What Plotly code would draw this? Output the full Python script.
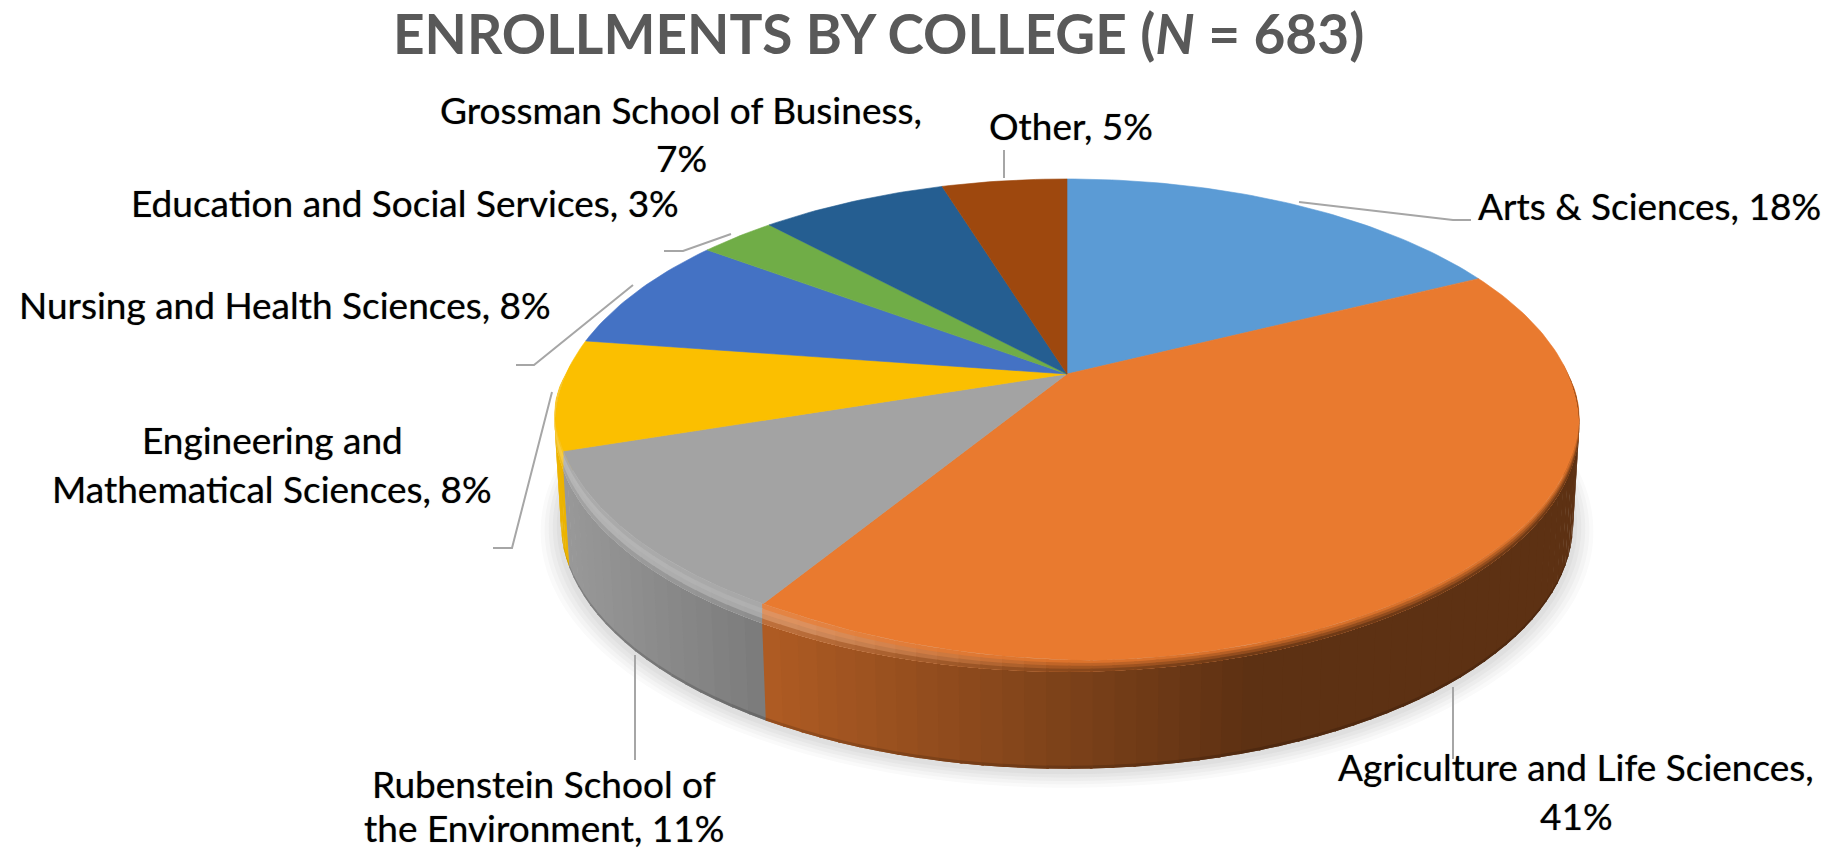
import numpy as np
import plotly.graph_objects as go

# Data: enrolment counts (N = 683)
colleges = ["Arts & Sciences", "Agriculture and Life Sciences", "Rubenstein School of the Environment",
            "Engineering and Mathematical Sciences", "Nursing and Health Sciences",
            "Education and Social Services", "Grossman School of Business", "Other"]
counts = [121, 277, 72, 58, 53, 20, 49, 33]
colors = ["#5B9BD5", "#E97A2F", "#A3A3A3", "#FBBF00", "#4472C4", "#70AD47", "#255E91", "#9E480E"]

# Label layout: lines of each label and the centre of each line, in pixels
label_lines = [
    [("{name}, {pct}%", 1649, 205)],
    [("Agriculture and Life Sciences,", 1576, 766), ("{pct}%", 1576, 815)],
    [("Rubenstein School of", 544, 783), ("the Environment, {pct}%", 544, 827)],
    [("Engineering and", 272, 439), ("Mathematical Sciences, {pct}%", 272, 488)],
    [("{name}, {pct}%", 285, 304)],
    [("{name}, {pct}%", 405, 202)],
    [("Grossman School of Business,", 681, 109), ("{pct}%", 681, 157)],
    [("{name}, {pct}%", 1071, 125)],
]
leaders = [
    [(1299, 202), (1453, 220), (1471, 220)],
    [(1453, 687), (1453, 759)],
    [(635, 655), (635, 760)],
    [(552, 392), (512, 548), (493, 548)],
    [(633, 285), (534, 365), (516, 365)],
    [(731, 234), (683, 251), (664, 251)],
    [],
    [(1004, 150), (1004, 178)],
]

# Projection of the pie disc
CX, CY, A, B, K = 1067.0, 374.0, 501.0, 235.7, 0.2085
DEPTH = 97.0
NARROW = 0.988  # the base of the disc is slightly narrower than its top
OVERLAP = np.radians(0.12)  # neighbouring wall strips overlap so no seams show


def disc(theta):
    """theta: radians clockwise from 12 o'clock. Perspective image of the unit circle."""
    sx, sy = np.sin(theta), -np.cos(theta)
    den = 1 - K * sy
    return CX + A * sx / den, CY + B * sy / den, sy


def base_x(x):
    return CX + (x - CX) * NARROW


def bevel_width(x, sy):
    return np.interp(x, [800, 1100], [20, 11]) * np.clip(sy / 0.35, 0, 1)


def rgb(h):
    return np.array([int(h[i:i + 2], 16) for i in (1, 3, 5)], float)


def css(c):
    c = np.clip(c, 0, 255)
    return "rgb(%d,%d,%d)" % tuple(c.round())


def side_light(x):
    return np.interp(x, [550, 766, 1250], [0.95, 0.75, 0.40])


def gloss(x):
    return np.interp(x, [550, 800, 1060], [0.27, 0.27, 0.0])


fig = go.Figure()


def poly(xs, ys, color, stroke=False):
    fig.add_trace(go.Scatter(x=list(xs), y=list(ys), mode="lines" if stroke else "none",
                             fill="toself", fillcolor=color,
                             line=dict(color=color, width=0.6), hoverinfo="skip", showlegend=False))


fracs = np.cumsum([0] + counts) / sum(counts)
angles = 2 * np.pi * fracs

# Soft shadow under the disc
full = np.linspace(0, 2 * np.pi, 361)
for scale, shift, shade in zip([1.04, 1.032, 1.024, 1.016, 1.008], [7, 6, 5, 4, 3],
                               ["#FAFAFA", "#F4F4F4", "#EDEDED", "#E6E6E6", "#DFDFDF"]):
    sx, sy = np.sin(full), -np.cos(full)
    den = 1 - K * sy
    poly(CX + NARROW * scale * A * sx / den, CY + DEPTH + shift + scale * B * sy / den, shade)

# Side wall quads, back to front
quads = []
for i, col in enumerate(colors):
    n = max(2, int((angles[i + 1] - angles[i]) / np.radians(2)))
    edges = np.linspace(angles[i], angles[i + 1], n + 1)
    for t0, t1 in zip(edges[:-1], edges[1:]):
        tm = (t0 + t1) / 2
        if -np.cos(tm) > -0.05:
            quads.append((i, t0, t1, -np.cos(tm)))
quads.sort(key=lambda q: q[3])
for i, t0, t1, _ in quads:
    x0, y0, _s = disc(t0 - OVERLAP)
    x1, y1, _s = disc(t1 + OVERLAP)
    xm = (x0 + x1) / 2
    c = rgb(colors[i]) * side_light(xm)
    poly([x0, x1, base_x(x1), base_x(x0)], [y0, y1, y1 + DEPTH, y0 + DEPTH], css(c))
    m0, m1 = CX + (x0 - CX) * (NARROW + 0.0005), CX + (x1 - CX) * (NARROW + 0.0005)
    poly([m0, m1, base_x(x1), base_x(x0)], [y0 + DEPTH - 3, y1 + DEPTH - 3, y1 + DEPTH, y0 + DEPTH], css(c * 0.85))


# Flat top slices
def top_edge(theta):
    x, y, s = disc(theta)
    return x, y - bevel_width(x, s)


for i, col in enumerate(colors):
    th = np.linspace(angles[i], angles[i + 1], max(3, int((angles[i + 1] - angles[i]) / np.radians(1))))
    ex, ey = top_edge(th)
    poly(np.r_[CX, ex, CX], np.r_[CY, ey, CY], col, stroke=True)

# Bevel between top and wall: each layer runs down to the wall, later layers cover the rest
LAYERS = 4
for l in range(LAYERS):
    a = l / LAYERS
    t = (l + 0.5) / LAYERS
    for i, t0, t1, sy in quads:
        if sy <= 0:
            continue
        x0, y0, s0 = disc(t0 - OVERLAP)
        x1, y1, s1 = disc(t1 + OVERLAP)
        w0, w1 = bevel_width(x0, s0), bevel_width(x1, s1)
        xm = (x0 + x1) / 2
        base = rgb(colors[i])
        wall = base * side_light(xm)
        c = base * (1 - t) + wall * t
        c = c + gloss(xm) * np.sin(np.pi * t) * (255 - c)
        poly([x0, x1, x1, x0], [y0 - w0 * (1 - a), y1 - w1 * (1 - a), y1, y0], css(c))

# Leader lines
for pts in leaders:
    if pts:
        fig.add_trace(go.Scatter(x=[p[0] for p in pts], y=[p[1] for p in pts], mode="lines",
                                 line=dict(color="#A6A6A6", width=2), hoverinfo="skip", showlegend=False))

# Labels
annotations = []
N = sum(counts)
for name, cnt, lines in zip(colleges, counts, label_lines):
    for txt, x, y in lines:
        annotations.append(dict(x=x, y=y, xref="x", yref="y", showarrow=False, xanchor="center", yanchor="middle",
                                text=txt.format(name=name, pct=round(100 * cnt / N)),
                                font=dict(family="Lato", size=37, color="#000000",
                                          shadow="0 0 1px rgba(0,0,0,0.55)")))
annotations.append(dict(x=878, y=33, xref="x", yref="y", showarrow=False, xanchor="center", yanchor="middle",
                        text="<b>ENROLLMENTS BY COLLEGE (<i>N</i> = %d)</b>" % N,
                        font=dict(family="Lato", size=55, color="#595959")))

fig.update_layout(
    width=1832, height=852, margin=dict(l=0, r=0, t=0, b=0),
    paper_bgcolor="white", plot_bgcolor="white", showlegend=False, annotations=annotations,
    xaxis=dict(range=[0, 1832], visible=False, fixedrange=True),
    yaxis=dict(range=[852, 0], visible=False, fixedrange=True),
)
fig.write_html("out.html", post_script="document.body.style.margin='0';",
               config={"displayModeBar": False})
